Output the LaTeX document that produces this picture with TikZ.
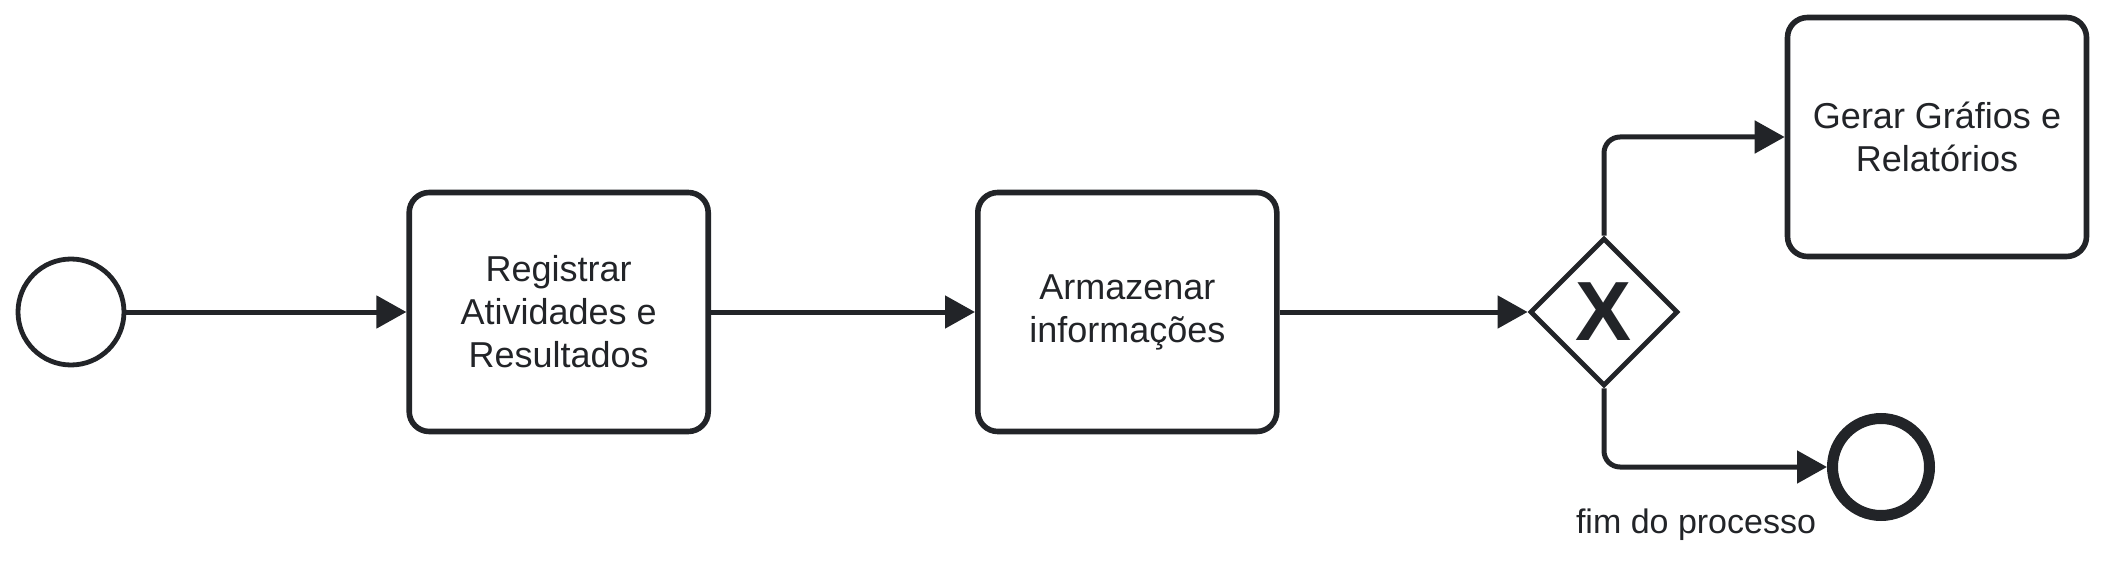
\documentclass[tikz,border=0pt]{standalone}
\usepackage{fontspec}
\setmainfont{Liberation Sans}
\usetikzlibrary{shapes.geometric,arrows.meta,positioning}
\definecolor{ink}{RGB}{34,36,40}

\begin{document}
\begin{tikzpicture}[
  x=0.5pt, y=-0.5pt,
  task/.style={
    rectangle, rounded corners=10pt,
    draw=ink, line width=2.8pt, fill=white,
    minimum width=149.5pt, minimum height=119.5pt,
    align=center, text=ink, font=\fontsize{18}{21.5}\selectfont
  },
  startev/.style={circle, draw=ink, line width=2.4pt, minimum size=53pt, inner sep=0pt},
  endev/.style={circle, draw=ink, line width=5.5pt, minimum size=48.5pt, inner sep=0pt},
  gate/.style={
    diamond, draw=ink, line width=2.4pt, fill=white,
    minimum size=74pt, inner sep=0pt,
    text=ink, font=\fontsize{42}{42}\selectfont\bfseries
  },
  arr/.style={draw=ink, line width=2.5pt, -{Triangle[length=15pt,width=16pt]}, rounded corners=8pt},
  lbl/.style={text=ink, font=\fontsize{17}{20}\selectfont},
]
\useasboundingbox (0,0) rectangle (2106,567);

%% -- Main row ------------------------------------------------------
\node[startev]                 (start) at (71,312) {};
\node[task, right=140pt of start] (reg)  {Registrar\\Atividades e\\Resultados};
\node[task, right=132pt of reg]   (arm)  {Armazenar\\informações};
\node[gate, right=124pt of arm]   (gw)   {X};

%% -- Branches ------------------------------------------------------
\node[task]  (graf) at (1937,137) {Gerar Gráfios e\\Relatórios};
\node[endev] (fim)  at (1881,467) {};
\node[lbl]   (fimlbl) at (1696,525) {fim do processo};

%% -- Flows ---------------------------------------------------------
\draw[arr] (start) -- (reg);
\draw[arr] (reg)   -- (arm);
\draw[arr] (arm)   -- (gw);
\draw[arr] (gw.north) |- (graf);
\draw[arr] (gw.south) |- (fim);

\end{tikzpicture}
\end{document}
